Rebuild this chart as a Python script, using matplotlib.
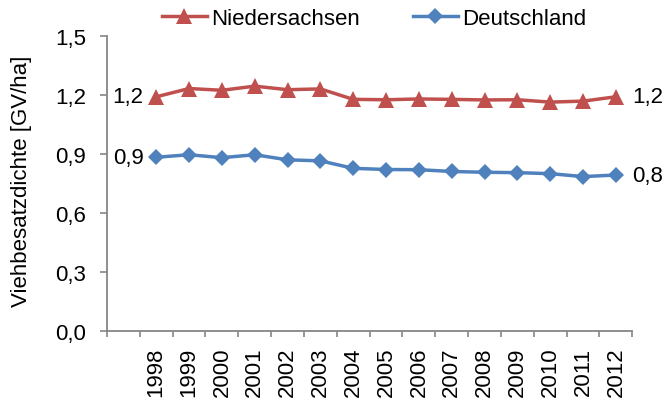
import matplotlib
matplotlib.use("Agg")
import matplotlib.pyplot as plt

plt.rcParams['font.family'] = ['Liberation Sans', 'DejaVu Sans']

years = ["1998", "1999", "2000", "2001", "2002", "2003", "2004", "2005",
         "2006", "2007", "2008", "2009", "2010", "2011", "2012"]
niedersachsen = [1.19, 1.232, 1.223, 1.244, 1.226, 1.23, 1.177, 1.175,
                 1.179, 1.177, 1.174, 1.175, 1.163, 1.168, 1.19]
deutschland = [0.883, 0.896, 0.881, 0.896, 0.870, 0.865, 0.827, 0.821,
               0.820, 0.811, 0.807, 0.805, 0.800, 0.785, 0.793]
yticks = [0.0, 0.3, 0.6, 0.9, 1.2, 1.5]
ytick_labels = ["0,0", "0,3", "0,6", "0,9", "1,2", "1,5"]

red = "#C0504D"
blue = "#4F81BD"
grey = "#868686"
fs = 16

fig = plt.figure(figsize=(6.67, 4.02), dpi=100)
ax = fig.add_axes([0.1604, 0.1734, 0.7876, 0.7353])

x = list(range(len(years)))
ax.plot(x, niedersachsen, color=red, lw=2.5, marker="^", ms=12,
        markeredgewidth=0, label="Niedersachsen", zorder=3)
ax.plot(x, deutschland, color=blue, lw=2.5, marker="D", ms=8.5,
        markeredgewidth=0, label="Deutschland", zorder=3)

ax.set_xlim(-1.5, len(years) - 0.5)
ax.set_ylim(0, 1.5)
ax.set_yticks(yticks)
ax.set_yticklabels(ytick_labels, fontsize=fs)
ax.set_xticks(x)
ax.set_xticklabels(years, rotation=90, fontsize=fs)
ax.set_xticks([i - 0.5 for i in range(-1, len(years) + 1)], minor=True)
ax.tick_params(axis="x", which="major", length=0, pad=11)
ax.tick_params(axis="x", which="minor", length=4.5, width=1.2, color=grey, direction="out")
ax.tick_params(axis="y", length=5, width=1.2, color=grey, direction="out", pad=10)

for s in ["top", "right"]:
    ax.spines[s].set_visible(False)
for s in ["left", "bottom"]:
    ax.spines[s].set_color(grey)
    ax.spines[s].set_linewidth(1.3)

ax.set_ylabel("Viehbesatzdichte [GV/ha]", fontsize=fs)
ax.yaxis.set_label_coords(-0.142, 0.51)

# data labels
ax.annotate("1,2", (x[0], niedersachsen[0]), xytext=(-9, 0), textcoords="offset points",
            ha="right", va="center", fontsize=fs)
ax.annotate("1,2", (x[-1], niedersachsen[-1]), xytext=(12, 0), textcoords="offset points",
            ha="left", va="center", fontsize=fs)
ax.annotate("0,9", (x[0], deutschland[0]), xytext=(-9, 0), textcoords="offset points",
            ha="right", va="center", fontsize=fs)
ax.annotate("0,8", (x[-1], deutschland[-1]), xytext=(12, 0), textcoords="offset points",
            ha="left", va="center", fontsize=fs)

fig.legend(loc="center", bbox_to_anchor=(0.561, 0.952), ncol=2, frameon=False,
           fontsize=fs, handlelength=2.0, columnspacing=2.4, handletextpad=0.2,
           borderpad=0.1)

fig.savefig("out.png", dpi=100)
